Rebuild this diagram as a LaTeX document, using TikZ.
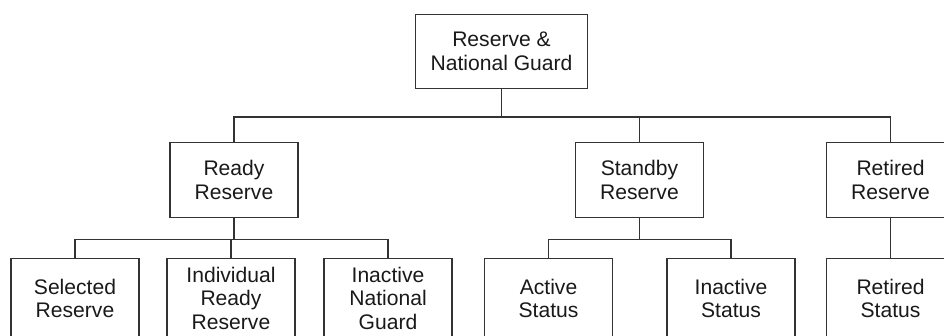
\documentclass[tikz,border=0pt]{standalone}
\usepackage{fontspec}
\setmainfont{Liberation Sans}
\begin{document}
\begin{tikzpicture}[x=1pt,y=-1pt,
  orgbox/.style={draw=black!80, line width=1.2pt, minimum width=128pt, minimum height=75pt,
    inner sep=0pt, align=center, text=black!90, font=\fontsize{21.1}{23.3}\selectfont},
  lowbox/.style={orgbox, minimum height=80pt},
  link/.style={draw=black!80, line width=1.2pt}]
\useasboundingbox (0,0) rectangle (944,335);
\clip (0,0) rectangle (944,335);
\node[orgbox, minimum width=172pt, minimum height=74pt] (top) at (501.5,51.2) {Reserve \&\\National Guard};
\node[orgbox] (ready) at (234,180) {Ready\\Reserve};
\node[orgbox] (standby) at (639.5,180) {Standby\\Reserve};
\node[orgbox] (retired) at (890.5,180) {Retired\\Reserve};
\node[lowbox] (sel) at (75,298.3) {Selected\\Reserve};
\node[lowbox] (irr) at (231,298.3) {Individual\\Ready\\Reserve};
\node[lowbox] (inng) at (388,298.3) {Inactive\\National\\Guard};
\node[lowbox] (act) at (548.5,298.3) {Active\\Status};
\node[lowbox] (inst) at (731,298.3) {Inactive\\Status};
\node[lowbox] (rets) at (890.5,298.3) {Retired\\Status};
\coordinate (bus1) at (0,117);
\coordinate (bus2) at (0,239.3);
\draw[link] (top.south) -- (top.south |- bus1);
\draw[link] (ready.north) -- (ready.north |- bus1) -- (retired.north |- bus1) -- (retired.north);
\draw[link] (standby.north) -- (standby.north |- bus1);
\draw[link] (ready.south) -- (ready.south |- bus2);
\draw[link] (sel.north) -- (sel.north |- bus2) -- (inng.north |- bus2) -- (inng.north);
\draw[link] (irr.north) -- (irr.north |- bus2);
\draw[link] (standby.south) -- (standby.south |- bus2);
\draw[link] (act.north) -- (act.north |- bus2) -- (inst.north |- bus2) -- (inst.north);
\draw[link] (retired.south) -- (rets.north);
\end{tikzpicture}
\end{document}
